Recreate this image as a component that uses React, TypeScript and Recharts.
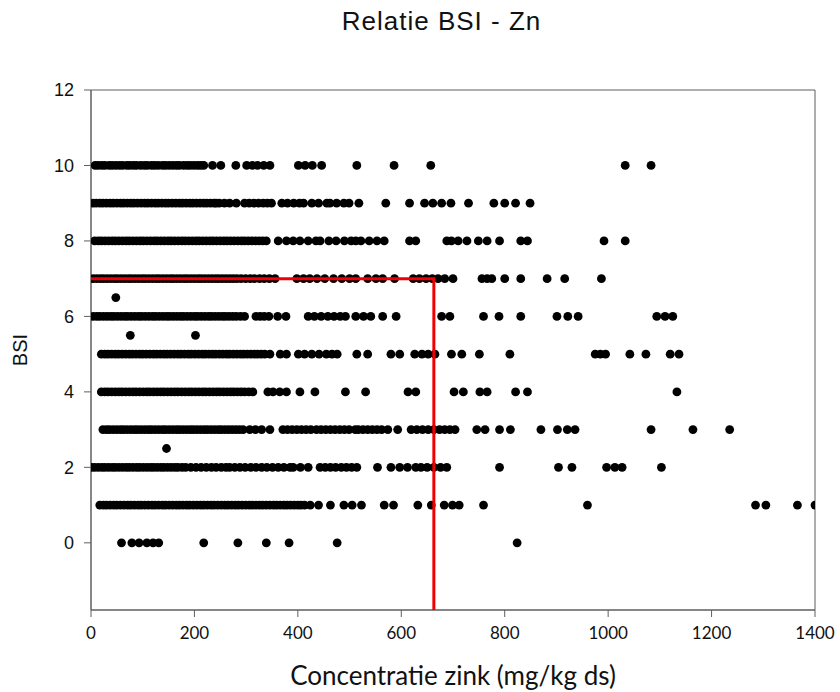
import { ScatterChart, Scatter, XAxis, YAxis, ReferenceArea, Label } from 'recharts';

// zink concentraties (mg/kg ds) per BSI-klasse
const bsi10 = [8, 14, 21, 27, 35, 41, 48, 55, 61, 69, 75, 82, 88, 96, 103, 109, 117, 123, 130, 138, 144, 151, 158, 165, 171, 179, 186, 192, 199, 206, 212, 218, 235, 251, 280, 301, 312, 322, 334, 346, 401, 414, 428, 446, 514, 586, 657, 1033, 1083];
const bsi9 = [4, 10, 17, 23, 30, 37, 43, 50, 57, 63, 70, 77, 83, 90, 97, 104, 110, 117, 124, 130, 137, 144, 150, 157, 164, 171, 177, 184, 191, 197, 204, 211, 218, 224, 231, 238, 242, 248, 258, 268, 281, 297, 306, 315, 324, 333, 341, 349, 369, 380, 392, 403, 411, 427, 440, 456, 462, 475, 489, 499, 518, 570, 616, 645, 661, 678, 696, 730, 779, 800, 821, 849];
const bsi8 = [7, 14, 20, 27, 34, 41, 47, 54, 61, 68, 74, 81, 88, 95, 101, 108, 115, 122, 128, 135, 142, 149, 155, 162, 169, 176, 182, 189, 196, 203, 209, 216, 223, 230, 236, 243, 250, 257, 263, 270, 277, 284, 291, 297, 304, 311, 318, 325, 332, 339, 362, 378, 391, 404, 420, 435, 443, 460, 474, 490, 503, 512, 522, 538, 553, 567, 616, 628, 688, 697, 710, 727, 749, 766, 790, 831, 844, 992, 1033];
const bsi7 = [4, 11, 18, 24, 31, 38, 45, 51, 58, 65, 72, 78, 85, 92, 99, 105, 112, 119, 126, 132, 139, 146, 153, 159, 166, 173, 180, 186, 193, 200, 207, 213, 220, 227, 234, 241, 247, 254, 261, 268, 275, 282, 290, 299, 308, 316, 326, 335, 345, 356, 398, 411, 423, 437, 452, 469, 485, 500, 512, 535, 551, 564, 587, 623, 635, 648, 660, 671, 684, 700, 756, 766, 775, 800, 831, 882, 916, 987];
const bsi6_5 = [48];
const bsi6 = [4, 11, 17, 24, 31, 38, 44, 51, 58, 65, 71, 78, 85, 92, 98, 105, 112, 119, 125, 132, 139, 146, 152, 159, 166, 173, 179, 186, 193, 200, 206, 213, 220, 227, 233, 240, 247, 254, 260, 267, 274, 281, 289, 297, 319, 327, 335, 344, 361, 377, 420, 432, 445, 458, 470, 482, 492, 512, 527, 541, 564, 590, 678, 694, 759, 789, 831, 901, 922, 942, 1094, 1110, 1125];
const bsi5_5 = [76, 202];
const bsi5 = [20, 27, 33, 40, 47, 53, 60, 67, 74, 80, 87, 94, 100, 107, 114, 121, 127, 134, 141, 147, 154, 161, 168, 174, 181, 188, 194, 201, 208, 215, 221, 228, 235, 241, 248, 255, 262, 268, 275, 282, 289, 295, 302, 309, 316, 322, 329, 336, 346, 366, 378, 401, 413, 427, 441, 455, 466, 476, 514, 535, 580, 597, 626, 640, 652, 665, 697, 717, 751, 810, 975, 985, 995, 1042, 1073, 1120, 1137];
const bsi4 = [20, 27, 33, 40, 47, 54, 60, 67, 74, 81, 87, 94, 101, 108, 114, 121, 128, 135, 141, 148, 155, 162, 168, 175, 182, 189, 195, 202, 209, 216, 222, 229, 236, 243, 249, 256, 263, 270, 276, 283, 290, 297, 305, 313, 342, 352, 365, 378, 404, 433, 492, 531, 613, 628, 702, 720, 752, 766, 821, 844, 1133];
const bsi3 = [23, 30, 36, 43, 50, 57, 63, 70, 77, 84, 90, 97, 104, 111, 117, 124, 131, 138, 144, 151, 158, 165, 171, 178, 185, 192, 198, 205, 212, 219, 225, 232, 239, 246, 252, 259, 266, 273, 280, 287, 294, 307, 318, 330, 346, 371, 380, 389, 398, 407, 416, 425, 436, 445, 454, 463, 472, 481, 490, 499, 511, 517, 526, 535, 544, 553, 562, 574, 593, 619, 630, 641, 652, 663, 674, 684, 694, 704, 746, 762, 790, 811, 870, 902, 921, 936, 1083, 1164, 1235];
const bsi2_5 = [146];
const bsi2 = [1, 7, 14, 21, 27, 34, 41, 47, 54, 61, 68, 74, 81, 88, 94, 101, 108, 115, 121, 128, 135, 141, 148, 155, 162, 168, 176, 183, 193, 203, 213, 223, 233, 242, 252, 261, 268, 278, 288, 298, 309, 319, 330, 340, 351, 362, 373, 385, 391, 405, 420, 443, 453, 463, 473, 484, 494, 504, 514, 554, 580, 597, 612, 628, 638, 650, 663, 676, 688, 790, 904, 930, 997, 1013, 1027, 1103];
const bsi1 = [17, 24, 30, 37, 44, 50, 57, 64, 71, 77, 84, 91, 97, 104, 111, 118, 124, 131, 138, 144, 151, 158, 165, 171, 178, 185, 191, 198, 205, 212, 218, 225, 232, 238, 245, 252, 259, 265, 272, 279, 285, 292, 299, 306, 312, 319, 326, 332, 339, 346, 353, 359, 366, 373, 379, 386, 393, 400, 406, 413, 424, 440, 463, 489, 505, 523, 567, 585, 632, 658, 683, 699, 712, 759, 960, 1285, 1305, 1366, 1400];
const bsi0 = [59, 79, 93, 108, 120, 131, 218, 284, 339, 383, 476, 824];

const rows: [number, number[]][] = [
    [10, bsi10], [9, bsi9], [8, bsi8], [7, bsi7], [6.5, bsi6_5], [6, bsi6], [5.5, bsi5_5],
    [5, bsi5], [4, bsi4], [3, bsi3], [2.5, bsi2_5], [2, bsi2], [1, bsi1], [0, bsi0],
];

const xTicks = [0, 200, 400, 600, 800, 1000, 1200, 1400];
const yTicks = [0, 2, 4, 6, 8, 10, 12];
const xDomain = [0, 1400];
const yDomain = [-1.78, 12];

// grenswaarde (rode lijnen)
const grensZn = 663;
const grensBsi = 7;

const data = rows.flatMap(([bsi, xs]) => xs.map((zn) => ({ zn, bsi })));

// rode grenslijn: horizontaal op BSI 7 tot de grens, dan omlaag naar de as
const grensLijn = [
    { zn: 0, bsi: grensBsi },
    { zn: grensZn, bsi: grensBsi },
    { zn: grensZn, bsi: yDomain[0] },
];

const AXIS = '#5f5f5f';

const Dot = (props: any) => <circle cx={props.cx} cy={props.cy} r={4.4} fill="#000" />;
const NoDot = () => <g />;

export default function App() {
    return (
        <div style={{ position: 'absolute', left: 0, top: 0, width: 840, height: 692 }}>
            <div
                style={{
                    position: 'absolute',
                    left: 0,
                    width: 883,
                    top: 6,
                    textAlign: 'center',
                    fontFamily: '"Liberation Sans", Arial, sans-serif',
                    fontSize: 26,
                    letterSpacing: 1,
                    color: '#111',
                    lineHeight: '30px',
                }}
            >
                Relatie BSI - Zn
            </div>
            <ScatterChart width={840} height={692} margin={{ top: 90, right: 25, bottom: 0, left: 0 }}>
                <XAxis
                    type="number"
                    dataKey="zn"
                    domain={xDomain}
                    ticks={xTicks}
                    allowDataOverflow
                    height={82}
                    tickSize={7}
                    tickMargin={10}
                    stroke={AXIS}
                    tick={{ fill: '#111', fontSize: 17, fontFamily: 'Lato, sans-serif' }}
                >
                    <Label
                        value="Concentratie zink (mg/kg ds)"
                        position="insideBottom"
                        offset={7}
                        style={{ fill: '#111', fontSize: 26, fontFamily: 'Lato, sans-serif' }}
                    />
                </XAxis>
                <YAxis
                    type="number"
                    dataKey="bsi"
                    domain={yDomain}
                    ticks={yTicks}
                    allowDataOverflow
                    width={91}
                    tickSize={7}
                    tickMargin={10}
                    stroke={AXIS}
                    tick={{ fill: '#111', fontSize: 18, fontFamily: '"Liberation Sans", Arial, sans-serif' }}
                >
                    <Label
                        value="BSI"
                        angle={-90}
                        position="insideLeft"
                        offset={20}
                        style={{ textAnchor: 'middle', fill: '#111', fontSize: 20, fontFamily: '"Liberation Sans", Arial, sans-serif' }}
                    />
                </YAxis>
                <ReferenceArea x1={xDomain[0]} x2={xDomain[1]} y1={yDomain[0]} y2={yDomain[1]} fill="none" stroke={AXIS} />
                <Scatter data={data} shape={Dot} isAnimationActive={false} />
                <Scatter
                    data={grensLijn}
                    shape={NoDot}
                    line={{ stroke: '#f00000', strokeWidth: 3 }}
                    lineType="joint"
                    isAnimationActive={false}
                />
            </ScatterChart>
        </div>
    );
}
